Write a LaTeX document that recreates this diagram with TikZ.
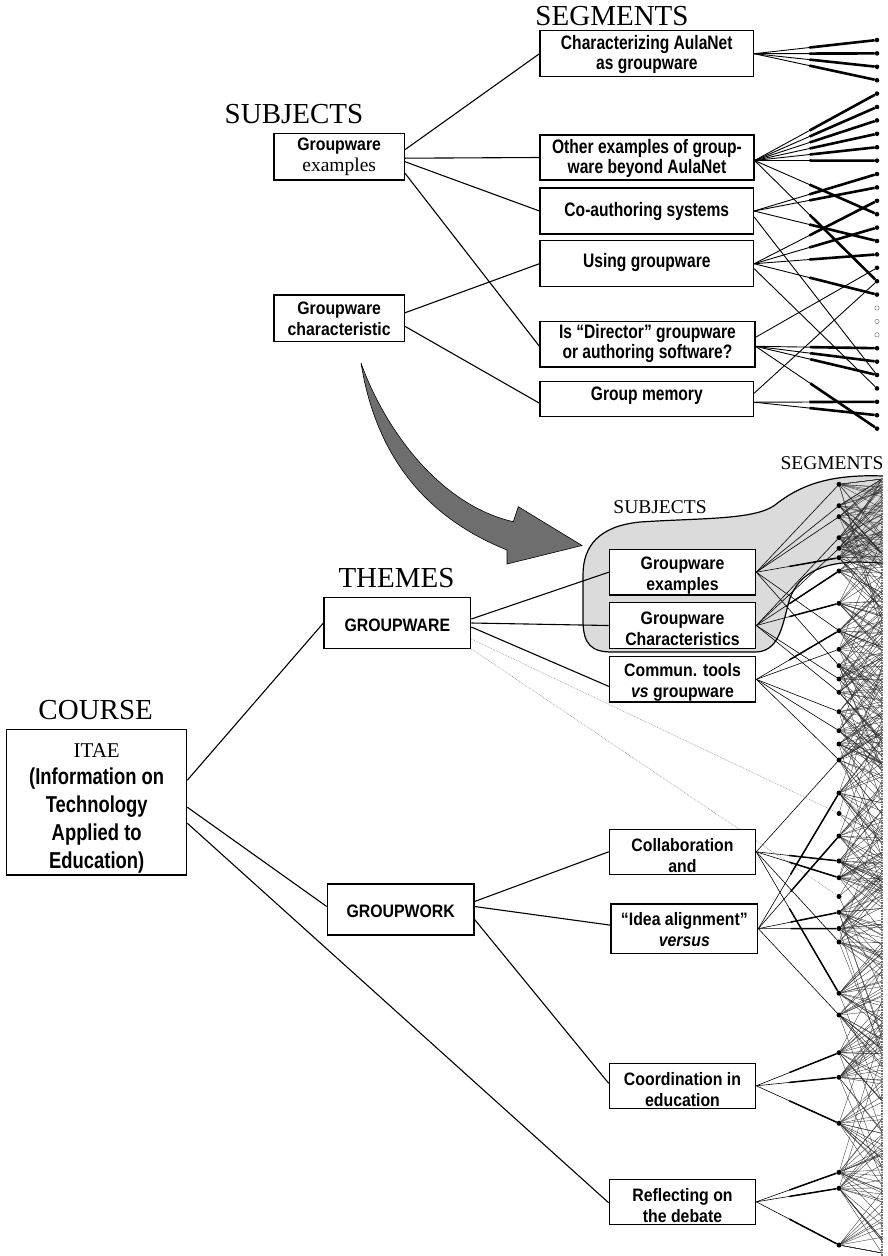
\documentclass[tikz,border=0pt]{standalone}
\usepackage{fontspec}
\setmainfont{Liberation Serif}
\newfontfamily\boxfont[FakeStretch=0.88]{Liberation Sans}
\newfontfamily\tallfont[FakeStretch=0.8]{Liberation Sans}
\usetikzlibrary{calc}
\pgfdeclarelayer{bg}
\pgfsetlayers{bg,main}
\tikzset{
  box/.style={draw=black, line width=1.2pt, fill=white, inner sep=0pt},
  btxt/.style={font=\boxfont\bfseries\fontsize{18}{21}\selectfont, align=center, inner sep=0pt},
  ttxt/.style={font=\tallfont\bfseries\fontsize{19.5}{20.5}\selectfont, align=center, inner sep=0pt},
  ctxt/.style={font=\tallfont\bfseries\fontsize{23}{27.8}\selectfont, align=center, inner sep=0pt},
  head/.style={font=\fontsize{29}{30}\selectfont, inner sep=0pt},
  headsm/.style={font=\fontsize{19.5}{20}\selectfont, inner sep=0pt},
  conn/.style={line width=1.1pt},
  tdot/.style={circle, fill=black, inner sep=0pt, minimum size=4.6pt},
  odot/.style={circle, draw=black!60, line width=0.4pt, fill=white, inner sep=0pt, minimum size=4.4pt},
  bdot/.style={circle, fill=black, inner sep=0pt, minimum size=5pt},
  segthin/.style={line width=0.9pt},
  segthick/.style={line width=2.6pt},
  lthin/.style={line width=0.6pt},
  lthick/.style={line width=1.5pt},
  fan/.style={line width=0.32pt, black!85},
  gdots/.style={gray!75, line width=0.7pt, densely dotted},
  column/.style={line width=2.4pt, black!55, dash pattern=on 0.9pt off 0.7pt},
}
\newcommand\topseg[2]{\draw[segthin] (#1) -- (#2); \draw[segthick] ($(#1)!0.45!(#2)$) -- (#2);}
\newcommand\topthin[2]{\draw[segthin] (#1) -- (#2);}
\newcommand\botseg[2]{\draw[lthin] (#1) -- (#2); \draw[lthick] ($(#1)!0.4!(#2)$) -- (#2);}
\newcommand\botthin[2]{\draw[lthin] (#1) -- (#2);}
\begin{document}
\begin{tikzpicture}[x=1pt,y=-1pt]
\useasboundingbox (0,0) rectangle (887,1256);

% ---------- upper diagram ----------
\node[head] (segtop) at (612,16) {SEGMENTS};
\node[head] (subtop) at (294,114) {SUBJECTS};

\node[box, minimum width=213.5, minimum height=46] (cz) at (646.8,53.7) {};
\node[ttxt] (cz-l) at ([yshift=-1]cz.center) {Characterizing AulaNet\\as groupware};
\node[box, minimum width=214, minimum height=45] (oe) at (647,157.5) {};
\node[ttxt] (oe-l) at ([yshift=-1]oe.center) {Other examples of group-\\ware beyond AulaNet};
\node[box, minimum width=213.5, minimum height=46] (ca) at (646.8,211) {};
\node[ttxt] (ca-l) at (ca.center) {Co-authoring systems};
\node[box, minimum width=213.5, minimum height=46] (ug) at (646.8,263.7) {};
\node[ttxt] (ug-l) at ([yshift=1]ug.center) {Using groupware};
\node[box, minimum width=215, minimum height=45.3] (dr) at (647.5,344.3) {};
\node[ttxt] (dr-l) at ([yshift=1]dr.center) {Is “Director” groupware\\or authoring software?};
\node[box, minimum width=213.5, minimum height=35] (gm) at (646.8,399.2) {};
\node[ttxt] (gm-l) at ([yshift=3]gm.center) {Group memory};

\node[box, minimum width=130.3, minimum height=46.7] (sgex) at (339.2,156.7) {};
\node[btxt] (sgex-l) at (sgex.center) {Groupware\\{\normalfont\fontsize{19.5}{20}\selectfont examples}};
\node[box, minimum width=130.3, minimum height=46.7] (sgch) at (339.2,318.3) {};
\node[btxt] (sgch-l) at (sgch.center) {Groupware\\characteristic};

\foreach \k in {0,...,19,23,24,25,26,27,28,29} {
  \pgfmathsetmacro\ty{40+13.4*\k}
  \node[tdot] (t\k) at (877,\ty) {};
}
\foreach \k in {20,21,22} {
  \pgfmathsetmacro\ty{40+13.4*\k}
  \node[odot] (t\k) at (877,\ty) {};
}

\draw[conn] ([yshift=7]sgex.east) -- (cz.west);
\draw[conn] ([yshift=-1.5]sgex.east) -- (oe.west);
\draw[conn] ([yshift=-5]sgex.east) -- (ca.west);
\draw[conn] ([yshift=-16.5]sgex.east) -- ([yshift=-2]dr.west);
\draw[conn] ([yshift=5.5]sgch.east) -- (ug.west);
\draw[conn] ([yshift=-8]sgch.east) -- ([yshift=-4]gm.west);

\foreach \k in {0,1,2,3} {\topseg{cz.east}{t\k}}
\foreach \k in {4,5,6,7,8,9,13,18} {\topseg{[yshift=-3]oe.east}{t\k}}
\foreach \k in {10,11,15} {\topseg{ca.east}{t\k}}
\topthin{[yshift=-6]ca.east}{t25}
\foreach \k in {12,14,16,19} {\topseg{ug.east}{t\k}}
\topthin{[yshift=-5]ug.east}{t26}
\topthin{[yshift=7]dr.east}{t17}
\foreach \k in {23,24,25,29} {\topseg{[yshift=-2]dr.east}{t\k}}
\topthin{[yshift=6]gm.east}{t18}
\foreach \k in {27,28} {\topseg{[yshift=-3]gm.east}{t\k}}

% ---------- curved arrow ----------
\path[draw=black, line width=0.6pt, fill=black!57]
  (361,363) .. controls (375,450) and (420,515) .. (507,550)
  -- (507,564) -- (582,545.5) -- (518.3,506.7) -- (513.3,521.7)
  .. controls (440,505) and (385,430) .. (361,363) -- cycle;

% ---------- lower diagram ----------
\node[head] (themes) at (396.5,578) {THEMES};
\node[head] (courselbl) at (95.7,710) {COURSE};
\node[headsm] (subbot) at (660,507.5) {SUBJECTS};
\node[headsm] (segbot) at (832,463) {SEGMENTS};

\node[box, minimum width=180, minimum height=145.7] (course) at (96.7,802.2) {};
\node[ctxt] (course-l) at ([yshift=-6]course.center) {{\normalfont\fontsize{21}{27.8}\selectfont ITAE}\\(Information on\\Technology\\Applied to\\Education)};
\node[box, minimum width=146.7, minimum height=50.6] (gw) at (397.35,623) {};
\node[btxt] (gw-l) at ([yshift=-2]gw.center) {GROUPWARE};
\node[box, minimum width=146.7, minimum height=51] (gwk) at (400.65,909.5) {};
\node[btxt] (gwk-l) at ([yshift=-2]gwk.center) {GROUPWORK};

\node[box, minimum width=146.4, minimum height=45.7] (gex) at (682.5,572.2) {};
\node[btxt] (gex-l) at ([yshift=-3.5]gex.center) {Groupware\\examples};
\node[box, minimum width=146.4, minimum height=45.6] (gch) at (682.5,625.5) {};
\node[btxt] (gch-l) at ([yshift=-3.5]gch.center) {Groupware\\Characteristics};
\node[box, minimum width=146.4, minimum height=45.3] (com) at (682.5,679.35) {};
\node[btxt] (com-l) at ([yshift=-3.5]com.center) {Commun. tools\\\textit{vs} groupware};
\node[box, minimum width=146.4, minimum height=45] (col) at (682.5,851.8) {};
\node[btxt] (col-l) at ([yshift=-3.5]col.center) {Collaboration\\and};
\node[box, minimum width=146.7, minimum height=49.3] (ida) at (684.35,928.65) {};
\node[btxt] (ida-l) at ([yshift=-1]ida.center) {“Idea alignment”\\\textit{versus}};
\node[box, minimum width=146.4, minimum height=45] (coo) at (682.5,1085.8) {};
\node[btxt] (coo-l) at ([yshift=-3.5]coo.center) {Coordination in\\education};
\node[box, minimum width=146.4, minimum height=45] (ref) at (682.5,1201.8) {};
\node[btxt] (ref-l) at ([yshift=-3.5]ref.center) {Reflecting on\\the debate};

\foreach \y [count=\i] in {484.3,505.7,516.7,537.7,548.3,557.7,571,603.3,630.7,649.3,665.7,679,692.3,711.7,730.7,744,760,793,813.5,836,861,877.7,896.5,912.3,928.5,942,993.3,1015,1052.7,1077.3,1123.3,1172.3,1188.3,1245} {
  \node[bdot] (b\i) at (839,\y) {};
}
\coordinate (coltop) at (882,476);
\coordinate (colbot) at (882,1256);

\begin{pgfonlayer}{bg}
\path[draw=black, line width=1.2pt, fill=black!14]
  (883,476) .. controls (830,474) and (800,485) .. (775,505)
  .. controls (755,520) and (700,518) .. (640,522)
  .. controls (600,526) and (583,545) .. (583,575)
  -- (583,620)
  .. controls (583,645) and (592,652) .. (612,652)
  -- (755,652)
  .. controls (778,652) and (782,628) .. (788,605)
  .. controls (795,575) and (820,562) .. (860,562)
  -- (883,563);
\pgfmathsetseed{12}
\foreach \y/\n [count=\i] in {484.3/12,505.7/14,516.7/12,537.7/14,548.3/12,557.7/14,571/10,603.3/14,630.7/14,649.3/12,665.7/12,679/12,692.3/12,711.7/12,730.7/12,744/12,760/12,793/14,813.5/1,836/12,861/14,877.7/14,896.5/1,912.3/14,928.5/14,942/10,993.3/14,1015/14,1052.7/14,1077.3/14,1123.3/14,1172.3/14,1188.3/14,1245/10} {
  \foreach \j in {1,...,\n} {
    \pgfmathsetmacro\ty{max(479,min(1253,\y+55*rand))}
    \coordinate (f\i-\j) at (882,\ty);
    \draw[fan] (b\i) -- (f\i-\j);
  }
  \foreach \j in {1,2} {
    \pgfmathsetmacro\ty{max(479,min(1253,\y+150*rand))}
    \coordinate (g\i-\j) at (882,\ty);
    \draw[fan] (b\i) -- (g\i-\j);
  }
}
\draw[gdots] ([yshift=-16]gw.east) -- (b19);
\draw[gdots] (gw.south east) -- (b23);
\end{pgfonlayer}

\draw[column] (coltop) -- (colbot);

\draw[conn] ([yshift=22]course.east) -- (gw.west);
\draw[conn] ([yshift=-5]course.east) -- ([yshift=3]gwk.west);
\draw[conn] ([yshift=-21]course.east) -- ([yshift=-1]ref.west);
\draw[conn] ([yshift=4]gw.east) -- (gex.west);
\draw[conn] (gw.east) -- (gch.west);
\draw[conn] ([yshift=-4]gw.east) -- ([yshift=-7]com.west);
\draw[conn] ([yshift=8]gwk.east) -- (col.west);
\draw[conn] ([yshift=3]gwk.east) -- ([yshift=3.5]ida.west);
\draw[conn] ([yshift=-10]gwk.east) -- ([yshift=2.5]coo.west);

\foreach \k in {1,2,3,9,11} {\botthin{gex.east}{b\k}}
\botseg{gex.east}{b6}
\foreach \k in {4,5,12,13} {\botthin{gch.east}{b\k}}
\foreach \k in {7,8} {\botseg{gch.east}{b\k}}
\botseg{com.east}{b9}
\foreach \k in {10,14,15,17} {\botthin{com.east}{b\k}}
\foreach \k in {17,26} {\botthin{col.east}{b\k}}
\foreach \k in {21,22,27} {\botseg{col.east}{b\k}}
\foreach \k in {18,20,24,25} {\botseg{ida.east}{b\k}}
\botthin{ida.east}{b28}
\foreach \k in {29,30,31} {\botseg{coo.east}{b\k}}
\foreach \k in {32,33,34} {\botseg{ref.east}{b\k}}
\end{tikzpicture}
\end{document}
